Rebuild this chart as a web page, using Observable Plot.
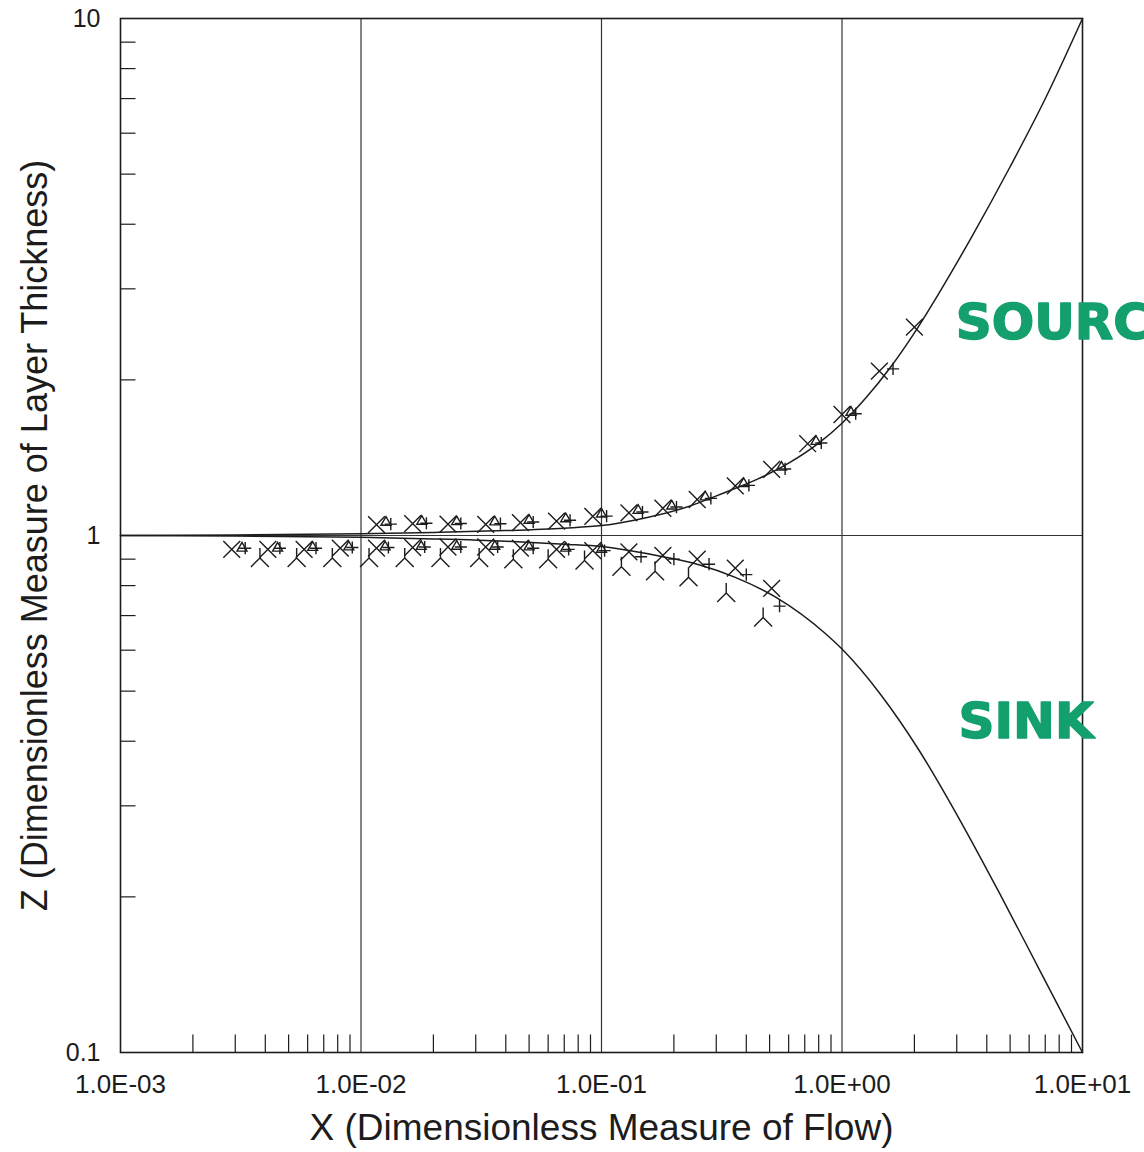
<!DOCTYPE html>
<html>
<head>
<meta charset="utf-8">
<script src="https://cdn.jsdelivr.net/npm/d3@7"></script>
<script src="https://cdn.jsdelivr.net/npm/@observablehq/plot@0.6"></script>
<style>
html, body { margin: 0; padding: 0; background: #fff; overflow: hidden; }
#chart { width: 1144px; height: 1152px; }
</style>
</head>
<body>
<div id="chart"></div>
<script>
// ---- axis ticks & labels ----
const xTicks = [0.001, 0.01, 0.1, 1, 10];
const xTickLabels = ["1.0E-03", "1.0E-02", "1.0E-01", "1.0E+00", "1.0E+01"];
const yTicks = [0.1, 1, 10];
const yTickLabels = ["0.1", "1", "10"];
const xGrid = [0.01, 0.1, 1];
const yGrid = [1];
const xMinor = [0.002,0.003,0.004,0.005,0.006,0.007,0.008,0.009,
                0.02,0.03,0.04,0.05,0.06,0.07,0.08,0.09,
                0.2,0.3,0.4,0.5,0.6,0.7,0.8,0.9,
                2,3,4,5,6,7,8,9];
const yMinor = [0.2,0.3,0.4,0.5,0.6,0.7,0.8,0.9, 2,3,4,5,6,7,8,9];
const xTitle = "X (Dimensionless Measure of Flow)";
const yTitle = "Z (Dimensionless Measure of Layer Thickness)";

// ---- theoretical curves ----
const sourceCurveX = [0.001,0.003,0.01,0.02,0.04,0.07,0.1,0.15,0.22,0.33,0.45,0.6,0.8,1.0,1.25,1.6,2.0,2.5,3.5,5,7,10];
const sourceCurveZ = [1.0,1.002,1.008,1.014,1.022,1.033,1.045,1.08,1.13,1.214,1.288,1.38,1.509,1.649,1.84,2.123,2.466,2.915,3.815,5.167,6.995,10];
const sinkCurveX = [0.001,0.003,0.01,0.02,0.04,0.07,0.1,0.13,0.18,0.25,0.36,0.53,0.85,1.0,1.45,2.1,3.1,4.5,6.6,10];
const sinkCurveZ = [1.0,0.998,0.992,0.985,0.975,0.962,0.952,0.935,0.91,0.88,0.83,0.76,0.647,0.603,0.492,0.383,0.281,0.204,0.145,0.1];

// ---- source (upper) measured points ----
const srcTimesX = [0.0116,0.0164,0.023,0.033,0.046,0.065,0.092,0.13,0.18,0.25,0.36,0.51,0.72,1.0,1.43,2.0];
const srcTimesZ = [1.05,1.054,1.052,1.051,1.059,1.066,1.089,1.106,1.129,1.174,1.247,1.342,1.505,1.714,2.08,2.53];
const srcTriX = [0.0127,0.0179,0.025,0.036,0.050,0.071,0.100,0.142,0.196,0.27,0.39,0.56,0.78,1.09];
const srcTriZ = [1.06,1.065,1.063,1.062,1.07,1.077,1.10,1.118,1.14,1.187,1.26,1.355,1.52,1.73];
const srcPlusX = [0.0133,0.0187,0.026,0.038,0.052,0.074,0.105,0.148,0.205,0.285,0.41,0.58,0.82,1.14,1.63];
const srcPlusZ = [1.052,1.056,1.055,1.054,1.062,1.07,1.09,1.11,1.135,1.18,1.25,1.345,1.51,1.72,2.1];

// ---- sink (lower) measured points ----
const sinkTimesX = [0.0029,0.0041,0.0058,0.0082,0.0116,0.0164,0.023,0.033,0.046,0.065,0.092,0.13,0.18,0.25,0.36,0.51];
const sinkTimesZ = [0.94,0.94,0.94,0.945,0.945,0.948,0.95,0.95,0.945,0.94,0.935,0.93,0.915,0.90,0.865,0.79];
const sinkTriX = [0.0032,0.0045,0.0063,0.0089,0.0126,0.0178,0.025,0.036,0.050,0.071,0.100];
const sinkTriZ = [0.945,0.945,0.948,0.95,0.95,0.952,0.953,0.953,0.95,0.945,0.94];
const sinkPlusX = [0.0033,0.0046,0.0065,0.0092,0.013,0.0184,0.026,0.037,0.052,0.073,0.103,0.146,0.20,0.28,0.40,0.55];
const sinkPlusZ = [0.945,0.945,0.945,0.948,0.948,0.95,0.95,0.95,0.945,0.94,0.935,0.91,0.90,0.88,0.84,0.73];
const sinkWyeX = [0.0038,0.0054,0.0076,0.0108,0.0152,0.0214,0.031,0.043,0.060,0.085,0.121,0.167,0.23,0.33,0.47];
const sinkWyeZ = [0.905,0.905,0.905,0.905,0.905,0.905,0.905,0.90,0.90,0.895,0.87,0.853,0.83,0.774,0.694];

// ---- hand-written annotations ----
const noteText = ["SOURCE", "SINK"];
const noteX = [2.97, 3.05];
const noteZ = [2.58, 0.435];

const zip = (xs, zs) => xs.map((x, i) => ({x, z: zs[i]}));
const ink = "#1c1c1c";
const green = "#14a06c";

// custom stroke-only symbols
const tickUp = {draw(ctx) { ctx.moveTo(0, 0); ctx.lineTo(0, -18); }};
const tickRight = {draw(ctx) { ctx.moveTo(0, 0); ctx.lineTo(15, 0); }};
const invWye = {draw(ctx) { ctx.moveTo(0, -10); ctx.lineTo(0, 0); ctx.lineTo(-9, 9); ctx.moveTo(0, 0); ctx.lineTo(9, 9); }};

const markStyle = {x: "x", y: "z", stroke: ink, fill: "none", strokeWidth: 1.4};

const chart = Plot.plot({
  width: 1144,
  height: 1152,
  marginLeft: 120,
  marginRight: 62,
  marginTop: 18,
  marginBottom: 100,
  style: {fontFamily: "'Liberation Sans', Arial, sans-serif", color: ink, background: "white"},
  x: {type: "log", domain: [0.001, 10], label: null},
  y: {type: "log", domain: [0.1, 10], label: null},
  marks: [
    Plot.ruleX(xGrid, {stroke: "#333", strokeWidth: 1.2}),
    Plot.ruleY(yGrid, {stroke: "#333", strokeWidth: 1.2}),
    Plot.dot(xMinor, {x: d => d, frameAnchor: "bottom", symbol: tickUp, stroke: ink, strokeWidth: 1.2}),
    Plot.dot(yMinor, {y: d => d, frameAnchor: "left", symbol: tickRight, stroke: ink, strokeWidth: 1.2}),
    Plot.frame({stroke: ink, strokeWidth: 1.6}),
    Plot.axisX(xTicks, {tickSize: 0, tickPadding: 22, fontSize: 26, label: null,
      tickFormat: d => xTickLabels[xTicks.indexOf(d)]}),
    Plot.axisY(yTicks, {tickSize: 0, tickPadding: 20, fontSize: 25, label: null,
      tickFormat: d => yTickLabels[yTicks.indexOf(d)]}),
    Plot.text([xTitle], {text: d => d, frameAnchor: "bottom", dy: 76, lineAnchor: "middle",
      textAnchor: "middle", fontSize: 37, fill: ink}),
    Plot.text([yTitle], {text: d => d, frameAnchor: "left", dx: -85, rotate: -90,
      textAnchor: "middle", lineAnchor: "middle", fontSize: 36, fill: ink}),
    Plot.line(zip(sourceCurveX, sourceCurveZ), {x: "x", y: "z", curve: "monotone-x", stroke: ink, strokeWidth: 1.5}),
    Plot.line(zip(sinkCurveX, sinkCurveZ), {x: "x", y: "z", curve: "monotone-x", stroke: ink, strokeWidth: 1.5}),
    Plot.dot(zip(srcTimesX, srcTimesZ), {...markStyle, symbol: "times", r: 7.7}),
    Plot.dot(zip(srcTriX, srcTriZ), {...markStyle, symbol: "triangle", r: 3.7}),
    Plot.dot(zip(srcPlusX, srcPlusZ), {...markStyle, symbol: "plus", r: 4}),
    Plot.dot(zip(sinkTimesX, sinkTimesZ), {...markStyle, symbol: "times", r: 7.7}),
    Plot.dot(zip(sinkTriX, sinkTriZ), {...markStyle, symbol: "triangle", r: 3.7}),
    Plot.dot(zip(sinkPlusX, sinkPlusZ), {...markStyle, symbol: "plus", r: 4}),
    Plot.dot(zip(sinkWyeX, sinkWyeZ), {...markStyle, symbol: invWye}),
    Plot.text(noteText, {x: (d, i) => noteX[i], y: (d, i) => noteZ[i], text: d => d,
      textAnchor: "start", fontSize: 50, fontWeight: "bold", fontFamily: "'DejaVu Sans', sans-serif",
      fill: green, stroke: green, strokeWidth: 1.5, strokeLinejoin: "round"})
  ]
});
document.getElementById("chart").appendChild(chart);
</script>
</body>
</html>
